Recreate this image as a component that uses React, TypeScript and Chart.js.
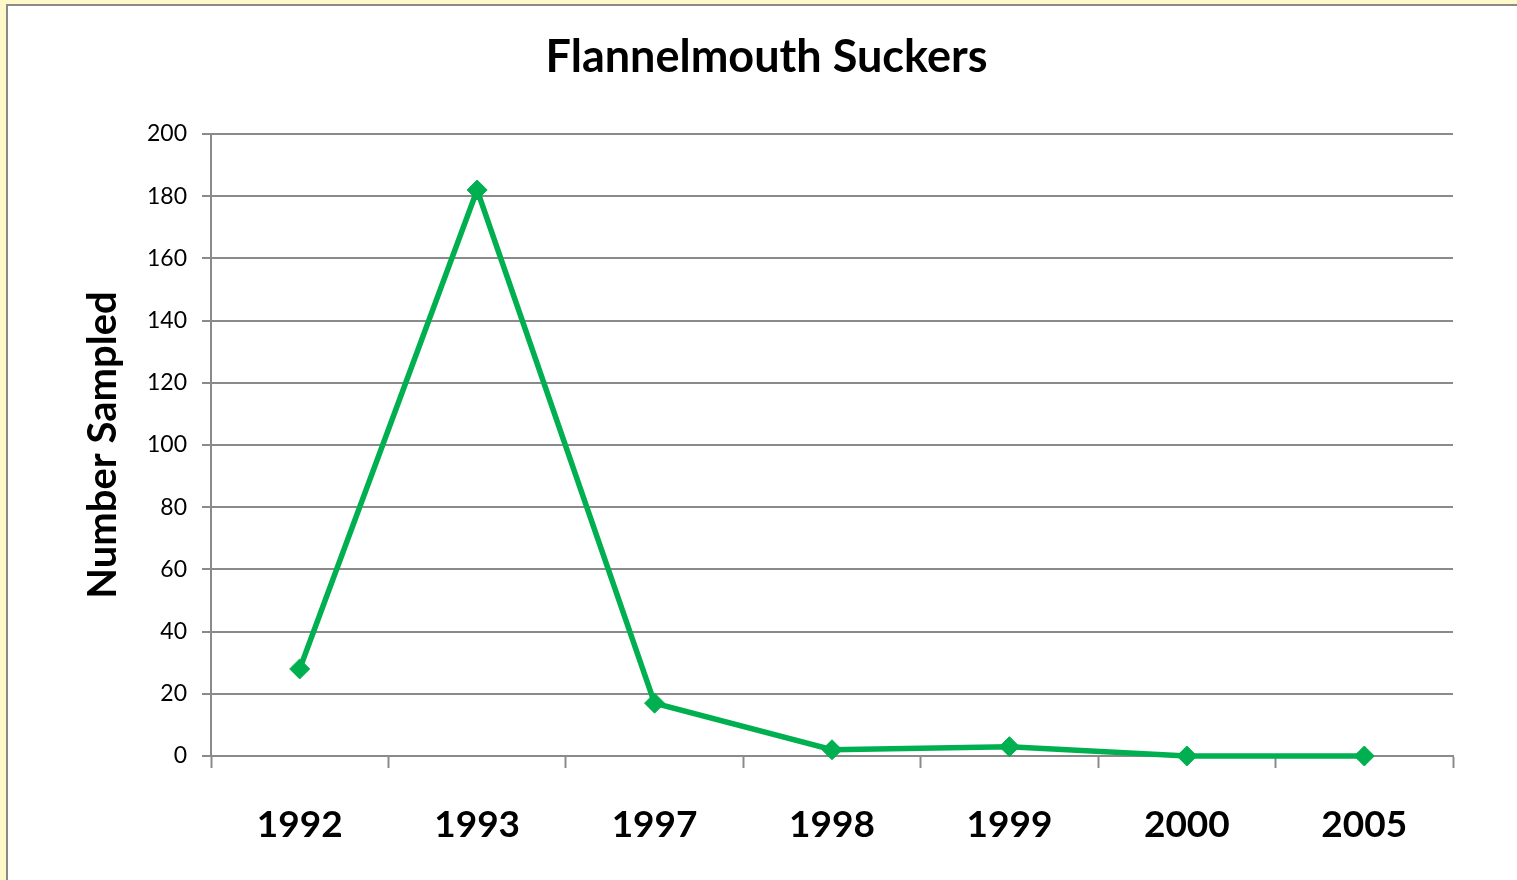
import React, { useEffect, useRef } from "react";
import { Chart, registerables } from "chart.js";

Chart.register(...registerables);

const categories: string[] = ["1992", "1993", "1997", "1998", "1999", "2000", "2005"];
const numberSampled: number[] = [28, 182, 17, 2, 3, 0, 0];
const yMin = 0;
const yMax = 200;
const yStep = 20;
const chartTitle = "Flannelmouth Suckers";
const yAxisTitle = "Number Sampled";

const FONT = "Lato, 'Open Sans', 'DejaVu Sans', sans-serif";
const GREEN = "#00B050";
const GRAY = "#8a8a8a";

export default function App() {
  const canvasRef = useRef<HTMLCanvasElement | null>(null);

  useEffect(() => {
    if (!canvasRef.current) return;
    const chart = new Chart(canvasRef.current, {
      type: "line",
      data: {
        labels: categories,
        datasets: [
          {
            label: yAxisTitle,
            data: numberSampled,
            yAxisID: "y",
            clip: false,
            borderColor: GREEN,
            backgroundColor: GREEN,
            borderWidth: 5.5,
            pointStyle: "rectRot",
            pointRadius: 10,
            pointBorderWidth: 1,
            pointBackgroundColor: GREEN,
            pointBorderColor: GREEN,
            tension: 0,
            fill: false,
          },
        ],
      },
      options: {
        responsive: false,
        animation: false,
        devicePixelRatio: 1,
        layout: { padding: { left: 16, right: 0, top: 0, bottom: 0 } },
        plugins: {
          legend: { display: false },
          tooltip: { enabled: false },
          title: {
            display: true,
            text: chartTitle,
            color: "#000",
            font: { family: FONT, size: 45, weight: "bold" },
            padding: { top: 30, bottom: 50 },
          },
        },
        scales: {
          x: {
            type: "category",
            offset: true,
            grid: {
              display: true,
              offset: true,
              drawOnChartArea: false,
              drawTicks: true,
              tickLength: 12,
              tickWidth: 2,
              tickColor: GRAY,
            },
            border: { display: true, color: GRAY, width: 2 },
            ticks: {
              color: "#000",
              font: { family: FONT, size: 37, weight: "bold" },
              padding: 35,
              maxRotation: 0,
              autoSkip: false,
            },
            afterFit: (scale: any) => {
              scale.height = 124;
            },
          },
          y: {
            min: yMin,
            max: yMax,
            grid: {
              color: GRAY,
              lineWidth: 2,
              drawTicks: true,
              tickLength: 9,
              tickColor: GRAY,
              tickWidth: 2,
            },
            border: { display: true, color: GRAY, width: 2 },
            ticks: {
              stepSize: yStep,
              color: "#000",
              font: { family: FONT, size: 23 },
              padding: 15,
            },
            title: {
              display: true,
              text: yAxisTitle,
              color: "#000",
              font: { family: FONT, size: 40, weight: "bold" },
              padding: { top: 63, bottom: 0 },
            },
            afterFit: (scale: any) => {
              scale.width = 195;
            },
          },
          spacer: {
            position: "right",
            display: true,
            grid: { display: false, drawTicks: false },
            border: { display: false },
            ticks: { display: false },
            title: { display: false },
            afterFit: (scale: any) => {
              scale.width = 64;
            },
          },
        },
      },
    });
    return () => chart.destroy();
  }, []);

  return (
    <div
      style={{
        position: "fixed",
        left: 0,
        top: 0,
        width: 1517,
        height: 880,
        background: "#FFF9C9",
        overflow: "hidden",
      }}
    >
      <div
        style={{
          position: "absolute",
          left: 6,
          top: 4,
          right: 0,
          bottom: 0,
          background: "#ffffff",
          borderTop: `2px solid ${GRAY}`,
          borderLeft: `2px solid ${GRAY}`,
        }}
      />
      <canvas
        ref={canvasRef}
        width={1517}
        height={880}
        style={{ position: "absolute", left: 0, top: 0, width: 1517, height: 880 }}
      />
    </div>
  );
}
